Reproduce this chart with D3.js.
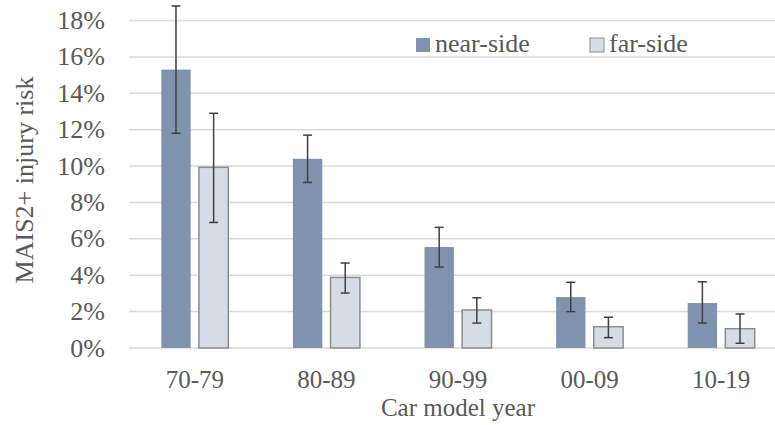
<!DOCTYPE html>
<html>
<head>
<meta charset="utf-8">
<script src="https://cdn.jsdelivr.net/npm/d3@7"></script>
<style>
  body { margin: 0; background: #fff; }
  svg { display: block; }
</style>
</head>
<body>
<div id="chart"></div>
<script>
const categories = ['70-79', '80-89', '90-99', '00-09', '10-19']
const series = ['near-side', 'far-side']
const nearSide = [15.3, 10.4, 5.55, 2.8, 2.47]
const nearLow = [11.8, 9.1, 4.45, 2.0, 1.37]
const nearHigh = [18.8, 11.7, 6.63, 3.61, 3.64]
const farSide = [9.93, 3.88, 2.09, 1.17, 1.06]
const farLow = [6.9, 3.02, 1.37, 0.57, 0.26]
const farHigh = [12.9, 4.67, 2.76, 1.69, 1.87]
const yTicks = [0, 2, 4, 6, 8, 10, 12, 14, 16, 18]

const width = 775, height = 425
const margin = { top: 20.5, left: 129, bottom: 77 }
const plotRight = 787
const font = 'Liberation Serif, DejaVu Serif, serif'
const fs = 26

const svg = d3.select('#chart').append('svg').attr('width', width).attr('height', height)
  .style('font-family', font)

const x = d3.scaleBand().domain(categories).range([margin.left, plotRight]).padding(0)
const x1 = d3.scaleBand().domain(series).range([0, 67]).paddingInner(0.22)
const y = d3.scaleLinear().domain([0, 18]).range([height - margin.bottom, margin.top])

const colors = { 'near-side': '#8093ae', 'far-side': '#d6dce5' }
const strokes = { 'near-side': 'none', 'far-side': '#8c8c8c' }

// gridlines
svg.append('g').selectAll('line').data(yTicks).enter().append('line')
  .attr('x1', margin.left).attr('x2', plotRight)
  .attr('y1', d => y(d)).attr('y2', d => y(d))
  .attr('stroke', '#d9d9d9').attr('stroke-width', 1.5)

// y tick labels
svg.append('g').selectAll('text').data(yTicks).enter().append('text')
  .attr('x', 105).attr('y', d => y(d) + 8.5)
  .attr('text-anchor', 'end').attr('fill', '#595959').attr('font-size', fs)
  .text(d => d + '%')

const rows = categories.map((c, i) => ({
  cat: c,
  bars: [
    { key: 'near-side', v: nearSide[i], lo: nearLow[i], hi: nearHigh[i] },
    { key: 'far-side', v: farSide[i], lo: farLow[i], hi: farHigh[i] }
  ]
}))

const groups = svg.append('g').selectAll('g').data(rows).enter().append('g')
  .attr('transform', d => `translate(${x(d.cat) + x.bandwidth() / 2 - 33.5},0)`)

groups.selectAll('rect').data(d => d.bars).enter().append('rect')
  .attr('x', d => x1(d.key)).attr('width', x1.bandwidth())
  .attr('y', d => y(d.v)).attr('height', d => y(0) - y(d.v))
  .attr('fill', d => colors[d.key]).attr('stroke', d => strokes[d.key]).attr('stroke-width', 1.5)

// error bars
const eb = groups.selectAll('g.err').data(d => d.bars).enter().append('g').attr('class', 'err')
  .attr('stroke', '#404040').attr('stroke-width', 1.5)
eb.append('line')
  .attr('x1', d => x1(d.key) + x1.bandwidth() / 2).attr('x2', d => x1(d.key) + x1.bandwidth() / 2)
  .attr('y1', d => y(d.lo)).attr('y2', d => y(d.hi))
eb.selectAll('line.cap').data(d => [{ b: d, v: d.lo }, { b: d, v: d.hi }]).enter().append('line')
  .attr('class', 'cap')
  .attr('x1', d => x1(d.b.key) + x1.bandwidth() / 2 - 4.5).attr('x2', d => x1(d.b.key) + x1.bandwidth() / 2 + 4.5)
  .attr('y1', d => y(d.v)).attr('y2', d => y(d.v))

// category labels
svg.append('g').selectAll('text').data(categories).enter().append('text')
  .attr('x', d => x(d) + x.bandwidth() / 2).attr('y', 388)
  .attr('text-anchor', 'middle').attr('fill', '#595959').attr('font-size', 25)
  .text(d => d)

svg.append('text').attr('x', 458).attr('y', 416).attr('text-anchor', 'middle')
  .attr('fill', '#595959').attr('font-size', 25).text('Car model year')

svg.append('text').attr('transform', 'translate(33,180) rotate(-90)').attr('text-anchor', 'middle')
  .attr('fill', '#595959').attr('font-size', fs).text('MAIS2+ injury risk')

// legend
const legendX = { 'near-side': 416, 'far-side': 590 }
const lg = svg.append('g').selectAll('g').data(series).enter().append('g')
  .attr('transform', d => `translate(${legendX[d]},38)`)
lg.append('rect').attr('width', 14).attr('height', 14)
  .attr('fill', d => colors[d]).attr('stroke', d => strokes[d]).attr('stroke-width', 1)
lg.append('text').attr('x', 19).attr('y', 14).attr('fill', '#595959').attr('font-size', fs)
  .text(d => d)
</script>
</body>
</html>
